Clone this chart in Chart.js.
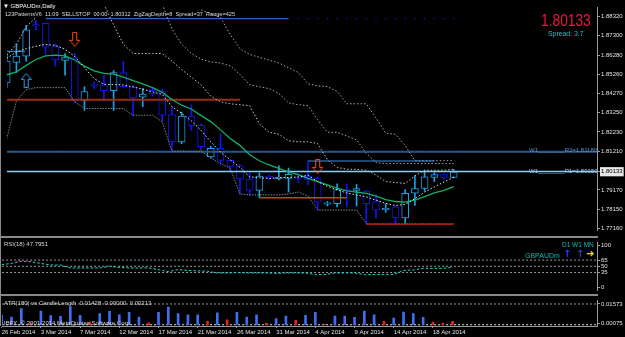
<!DOCTYPE html>
<html lang="en">
<head>
<meta charset="UTF-8" />
<title>GBPAUDm,Daily</title>
<style>
  html, body { margin: 0; padding: 0; background: #000; }
  body { width: 625px; height: 337px; position: relative; overflow: hidden;
         font-family: 'Liberation Sans', Arial, sans-serif; }
  .pane { position: absolute; left: 0; width: 625px; }
  .txt { position: absolute; white-space: pre; line-height: 1; transform-origin: 0 0; }
  .sep { position: absolute; background: #8a8a8a; }
</style>
</head>
<body>
  <div class="pane" style="top:0;height:237px"><canvas id="main" width="625" height="237"></canvas></div>
  <div class="pane" style="top:238px;height:57px"><canvas id="rsi" width="625" height="57"></canvas></div>
  <div class="pane" style="top:296px;height:41px"><canvas id="atr" width="625" height="41"></canvas></div>

  <div class="sep" style="left:0;top:236px;width:598px;height:2px"></div>
  <div class="sep" style="left:0;top:294px;width:598px;height:2px"></div>
  <div class="sep" style="left:0;top:0;width:1px;height:326px"></div>

  <div class="txt" style="left:3px;top:3px;font-size:6px;color:#fff">▼ GBPAUDm,Daily</div>
  <div class="txt" style="left:5px;top:11px;font-size:6px;color:#d8d8d8;transform:scaleX(0.93)">123PatternsV6  11:09  SELLSTOP  00:00  1.80312  ZigZagDepth=8  Spread=37  Range=425</div>
  <div class="txt" style="left:541px;top:13px;font-size:16px;color:#f0163c;transform:scaleX(0.86)">1.80133</div>
  <div class="txt" style="left:548px;top:30px;font-size:8px;color:#12c8c8;transform:scaleX(0.86)">Spread: 3.7</div>
  <div class="txt" style="left:529px;top:147px;font-size:6px;color:#5f8fc8">W1________R2=1.81180</div>
  <div class="txt" style="left:529px;top:168px;font-size:6px;color:#9cc8f0">W1________R1=1.80150</div>
  <div class="txt" style="left:4px;top:241px;font-size:6px;color:#d8d8d8">RSI(18) 47.7951</div>
  <div class="txt" style="left:562px;top:242px;font-size:6.5px;color:#14b4b4">D1 W1 MN</div>
  <div class="txt" style="left:525px;top:252px;font-size:7px;color:#14b4b4">GBPAUDm</div>
  <div class="txt" style="left:563px;top:249px;font-size:10px;font-weight:bold;color:#1e3cff;font-family:'DejaVu Sans'">↑</div>
  <div class="txt" style="left:576px;top:249px;font-size:10px;font-weight:bold;color:#1e3cff;font-family:'DejaVu Sans'">↑</div>
  <div class="txt" style="left:586px;top:249px;font-size:10px;font-weight:bold;color:#f0e000;font-family:'DejaVu Sans'">➜</div>
  <div class="txt" style="left:4px;top:300px;font-size:6px;color:#d8d8d8">ATR(180) vs CandleLength  0.01428  0.00000  0.00213</div>
  <div class="txt" style="left:4px;top:320px;font-size:6px;color:#d8d8d8">IBFX, © 2001-2014 MetaQuotes Software Corp.</div>

  <script src="https://cdn.jsdelivr.net/npm/chart.js"></script>
  <script>
    // ---- data ----
    const open = [1.84817, 1.85903, 1.86233, 1.87870, 1.87955, 1.86734, 1.86003, 1.86153, 1.83866, 1.84742, 1.84702, 1.84402, 1.85367, 1.84617, 1.84066, 1.84431, 1.84366, 1.83150, 1.81699, 1.83065, 1.82580, 1.80913, 1.81363, 1.80728, 1.80448, 1.79747, 1.79146, 1.79897, 1.79777, 1.79777, 1.79837, 1.79897, 1.79777, 1.78416, 1.78446, 1.79196, 1.79146, 1.79111, 1.78561, 1.78125, 1.78275, 1.77695, 1.78996, 1.79246, 1.79827, 1.79977, 1.79827];
    const high = [1.86368, 1.86869, 1.87835, 1.88120, 1.87970, 1.86869, 1.86368, 1.86368, 1.84617, 1.84867, 1.85217, 1.85468, 1.85953, 1.84667, 1.84517, 1.84567, 1.84502, 1.83531, 1.83280, 1.83666, 1.82665, 1.81464, 1.82114, 1.80763, 1.80513, 1.80062, 1.80062, 1.79962, 1.80448, 1.80328, 1.80012, 1.80698, 1.79862, 1.78561, 1.79497, 1.79497, 1.79462, 1.79161, 1.78911, 1.78446, 1.78310, 1.79196, 1.79912, 1.80197, 1.80077, 1.80012, 1.80247];
    const low = [1.84567, 1.85367, 1.85968, 1.87620, 1.86333, 1.85703, 1.85232, 1.83781, 1.83365, 1.84517, 1.83866, 1.83365, 1.84592, 1.83065, 1.83566, 1.84116, 1.82780, 1.81198, 1.81614, 1.82314, 1.81228, 1.80863, 1.80528, 1.80112, 1.78946, 1.78861, 1.78776, 1.79737, 1.79697, 1.79061, 1.79562, 1.79447, 1.78110, 1.78326, 1.78275, 1.78275, 1.78326, 1.77394, 1.77695, 1.77995, 1.77394, 1.77394, 1.78360, 1.79111, 1.79612, 1.79762, 1.79812];
    const close = [1.85968, 1.86233, 1.87620, 1.87810, 1.86704, 1.86033, 1.86153, 1.83866, 1.84366, 1.84682, 1.84402, 1.85367, 1.84617, 1.84031, 1.84231, 1.84231, 1.83115, 1.81699, 1.83065, 1.82565, 1.81449, 1.81363, 1.80728, 1.80413, 1.79747, 1.79146, 1.79897, 1.79777, 1.79837, 1.79997, 1.79777, 1.79727, 1.78526, 1.78476, 1.79196, 1.79111, 1.79246, 1.78446, 1.78110, 1.78185, 1.77695, 1.78996, 1.79246, 1.79862, 1.79977, 1.79827, 1.80133];

    const maGreen = [1.85242, 1.85393, 1.85743, 1.86053, 1.86238, 1.86283, 1.86248, 1.86028, 1.85703, 1.85453, 1.85317, 1.85282, 1.85127, 1.84942, 1.84767, 1.84567, 1.84316, 1.83941, 1.83641, 1.83441, 1.83090, 1.82775, 1.82340, 1.81889, 1.81524, 1.81028, 1.80713, 1.80488, 1.80312, 1.80122, 1.79982, 1.79777, 1.79612, 1.79442, 1.79261, 1.79126, 1.79061, 1.78986, 1.78846, 1.78656, 1.78561, 1.78531, 1.78631, 1.78821, 1.79021, 1.79151, 1.79351];
    const midLine = [1.86118, 1.86444, 1.86619, 1.86749, 1.86854, 1.86794, 1.86594, 1.86208, 1.85618, 1.85042, 1.84742, 1.84732, 1.84707, 1.84607, 1.84487, 1.84342, 1.84216, 1.83566, 1.83215, 1.82815, 1.82314, 1.81714, 1.81163, 1.80763, 1.80363, 1.79862, 1.79812, 1.79777, 1.79812, 1.79832, 1.79852, 1.79947, 1.79612, 1.79362, 1.79176, 1.79011, 1.78901, 1.78801, 1.78636, 1.78461, 1.78346, 1.78411, 1.78711, 1.79061, 1.79331, 1.79591, 1.79851];
    // stepped channel lines (null = not drawn)
    const chanSlow = [null, null, null, null, null, null, null, null, null, null, null, null, null, null, null, null, null, null, null, null, 1.88671, 1.88471, 1.88270, 1.87370, 1.86619, 1.86318, 1.86168, 1.86018, 1.85868, 1.85618, 1.85368, 1.84767, 1.84667, 1.84617, 1.84367, 1.83716, 1.83716, 1.83716, 1.82965, 1.82164, 1.82114, 1.81514, 1.80713, 1.80713, 1.80713, 1.80713, 1.80713];
    const chanMid = [null, null, null, null, null, null, null, null, null, null, null, null, null, null, null, null, 1.88971, 1.87670, 1.86869, 1.86369, 1.86068, 1.85918, 1.85868, 1.85718, 1.85267, 1.84717, 1.84617, 1.84517, 1.84266, 1.83766, 1.83666, 1.83616, 1.82865, 1.82214, 1.82214, 1.82014, 1.81814, 1.81113, 1.80613, 1.80563, 1.80563, 1.80563, 1.80563, 1.80563, 1.80563, 1.80563, 1.80563];
    const chanFast = [1.86268, 1.86869, 1.87770, 1.88270, null, null, null, null, null, null, 1.88971, 1.87870, 1.86869, 1.86369, 1.86369, 1.86369, 1.86369, 1.85968, 1.85518, 1.85117, 1.84717, 1.84116, 1.83816, 1.83716, 1.83666, 1.83616, 1.82665, 1.82214, 1.82114, 1.81764, 1.81714, 1.81714, 1.81614, 1.80763, 1.80363, 1.80262, 1.80262, 1.80212, 1.79962, 1.79612, 1.79562, 1.79512, 1.79912, 1.80212, 1.80212, 1.80212, 1.80262];
    const chanLower = [1.81864, 1.83866, 1.84467, 1.84567, 1.84567, 1.84567, 1.84567, 1.83816, 1.83466, 1.83466, 1.83466, 1.83466, 1.83466, 1.83115, 1.83115, 1.83115, 1.82765, 1.81213, 1.81213, 1.81213, 1.81213, 1.80863, 1.80563, 1.80312, 1.78961, 1.78911, 1.78911, 1.78911, 1.78911, 1.78961, 1.79061, 1.78861, 1.78110, 1.78110, 1.78110, 1.78110, 1.78110, 1.77385, 1.77385, 1.77385, 1.77385, 1.77385, 1.77385, 1.77385, 1.77385, 1.77385, 1.77385];

    const rsi = [54, 57, 62, 61, 57, 53, 53, 46, 46, 46, 46, 50, 47, 46, 46, 46, 42, 37, 42, 40, 39, 38, 34, 34, 35, 34, 34, 34, 33, 34, 34, 34, 30, 30, 34, 34, 34, 30, 30, 30, 30, 40, 41, 45, 45, 45, 47.8];
    const rsiLevels = [35, 50, 65];
    const candleLenUp = [0.0073, 0.0058, 0.0122, null, 0.0103, 0.0069, 0.0064, 0.0137, 0.0071, null, 0.0085, 0.0101, 0.0075, 0.0094, 0.0058, null, 0.0094, 0.0133, 0.0085, 0.0075, 0.0075, null, 0.0090, null, 0.0094, 0.0058, 0.0075, null, 0.0047, 0.0066, null, 0.0071, 0.0094, null, 0.0066, 0.0066, 0.0056, 0.0103, 0.0075, null, 0.0051, 0.0096, 0.0085, 0.0056, null, null, null];
    const candleLenDown = [null, null, null, 0.0013, null, null, null, null, null, 0.0021, null, null, null, null, null, 0.0015, null, null, null, null, null, 0.0026, null, 0.0037, null, null, null, 0.0013, null, null, 0.0034, null, null, 0.0004, null, null, null, null, null, 0.0026, null, null, null, null, 0.0021, 0.0013, 0.0026];
    const atrLevels = [0.0, 0.01573];

    const priceTicks = [1.77160, 1.78150, 1.79170, 1.80133, 1.81210, 1.82230, 1.83250, 1.84270, 1.85260, 1.86280, 1.87300, 1.88320];
    const rsiTicks = [0, 35, 50, 65, 100];
    const atrTicks = [0.00075, 0.01573];
    const dateTicks = ['26 Feb 2014', '3 Mar 2014', '7 Mar 2014', '12 Mar 2014', '17 Mar 2014', '21 Mar 2014', '26 Mar 2014', '31 Mar 2014', '4 Apr 2014', '9 Apr 2014', '14 Apr 2014', '18 Apr 2014'];

    const lastPrice = 1.80133;
    const pivotR2 = 1.81180;
    const pivotR1 = 1.80150;
    // horizontal segments: [fromBar, toBar, price]
    const brownLevel = [-1, 24, 1.83931];
    const redLevel = [26, 35, 1.78761];
    const lowLevel = [37, 46, 1.77359];
    const entryLevel = [31, 44, 1.80698];
    const topLevel = [4, 29, 1.88205];
    const topDots = [30, 31, 32, 33, 34, 35, 36, 37, 38, 39, 40, 41, 42, 43, 44, 45, 46];
    const leftLevel = [-1, 1.9, 1.86484];
    const sellArrows = [[7, 1.87119], [32, 1.80413]];
    const buyArrows = [[2, 1.84952]];

    // ---- helpers ----
    const BULL = '#1f9fe6';
    const BEAR = '#1414f0';
    const X_MIN = 0.03, X_MAX = 60.74;
    const FONT = { family: "'Liberation Sans', Arial, sans-serif", size: 6 };
    const bars = open.map((o, i) => i);
    const isBull = i => close[i] >= open[i];
    const seg = (a, b, y) => [{ x: a, y }, { x: b, y }];
    const full = y => seg(-2, 70, y);
    const series = arr => arr.map((v, i) => ({ x: i, y: v }));
    const dotted = (arr, color, dash) => ({
      type: 'line', data: series(arr), borderColor: color, borderWidth: 1, borderDash: dash,
      pointRadius: 0, spanGaps: false, order: 4
    });

    function arrowImage(dir, color) {
      const c = document.createElement('canvas');
      c.width = 11; c.height = 15;
      const g = c.getContext('2d');
      g.strokeStyle = color; g.lineWidth = 1;
      g.beginPath();
      if (dir === 'down') {
        g.moveTo(3.5, 0.5); g.lineTo(7.5, 0.5); g.lineTo(7.5, 8.5); g.lineTo(10.5, 8.5);
        g.lineTo(5.5, 14.5); g.lineTo(0.5, 8.5); g.lineTo(3.5, 8.5); g.closePath();
      } else {
        g.moveTo(3.5, 14.5); g.lineTo(7.5, 14.5); g.lineTo(7.5, 6.5); g.lineTo(10.5, 6.5);
        g.lineTo(5.5, 0.5); g.lineTo(0.5, 6.5); g.lineTo(3.5, 6.5); g.closePath();
      }
      g.stroke();
      return c;
    }

    const xScale = { type: 'linear', min: X_MIN, max: X_MAX, offset: false, display: false };
    const rightAxis = (extra) => Object.assign({
      position: 'right',
      afterFit: s => { s.width = 28; },
      grid: { drawOnChartArea: false, drawTicks: true, tickLength: 3, color: '#9a9a9a' },
      border: { display: true, color: '#9a9a9a', width: 1 },
      ticks: { autoSkip: false, padding: 1, color: '#e0e0e0', font: FONT }
    }, extra);
    const common = {
      responsive: false, animation: false, devicePixelRatio: 1,
      plugins: { legend: { display: false }, tooltip: { enabled: false } },
      events: []
    };

    // ---- main price pane ----
    new Chart(document.getElementById('main'), {
      type: 'bar',
      data: {
        datasets: [
          { type: 'line', data: series(midLine), borderColor: '#e6e6e6', borderWidth: 1, borderDash: [1.5, 2], pointRadius: 0, order: 2 },
          { type: 'line', data: series(maGreen), borderColor: '#10b068', borderWidth: 1.3, pointRadius: 0, order: 2 },
          { type: 'line', data: buyArrows.map(a => ({ x: a[0], y: a[1] })), showLine: false, pointStyle: arrowImage('up', '#2a9fe8'), pointRadius: 6, order: 1 },
          { type: 'line', data: sellArrows.map(a => ({ x: a[0], y: a[1] })), showLine: false, pointStyle: arrowImage('down', '#ff4a1c'), pointRadius: 6, order: 1 },
          dotted(chanSlow, '#a4a4a4', [1.5, 2]),
          dotted(chanMid, '#a4a4a4', [1.5, 2]),
          dotted(chanFast, '#c4c4c4', [1.5, 2]),
          dotted(chanLower, '#808080', [1.5, 1.2]),
          { type: 'line', data: full(pivotR2), borderColor: '#2c5a88', borderWidth: 2, pointRadius: 0, order: 5 },
          { type: 'line', data: bars.map(i => ({ x: i, y: pivotR2 })), showLine: false, pointStyle: 'rect', pointRadius: 0.8, backgroundColor: '#1030d0', borderWidth: 0, order: 4 },
          { type: 'line', data: full(pivotR1), borderColor: '#8ccdf8', borderWidth: 1.5, pointRadius: 0, order: 5 },
          { type: 'line', data: seg(brownLevel[0], brownLevel[1], brownLevel[2]), borderColor: '#9a2c10', borderWidth: 2, pointRadius: 0, order: 5 },
          { type: 'line', data: seg(redLevel[0], redLevel[1], redLevel[2]), borderColor: '#e8341c', borderWidth: 1.5, pointRadius: 0, order: 3 },
          { type: 'line', data: seg(lowLevel[0], lowLevel[1], lowLevel[2]), borderColor: '#9b2008', borderWidth: 1.5, pointRadius: 0, order: 3 },
          { type: 'line', data: seg(entryLevel[0], entryLevel[1], entryLevel[2]), borderColor: '#3c8ce0', borderWidth: 1.2, pointRadius: 0, order: 3 },
          { type: 'line', data: seg(topLevel[0], topLevel[1], topLevel[2]), borderColor: '#3c7ce0', borderWidth: 1, pointRadius: 0, order: 5 },
          { type: 'line', data: topDots.map(i => ({ x: i, y: topLevel[2] })), showLine: false, pointStyle: 'rect', pointRadius: 0.9, backgroundColor: '#0a14d0', borderWidth: 0, order: 5 },
          { type: 'line', data: seg(leftLevel[0], leftLevel[1], leftLevel[2]), borderColor: '#2a9fe8', borderWidth: 1, pointRadius: 0, order: 5 },
          {
            data: bars.map(i => ({ x: i, y: [Math.min(open[i], close[i]), Math.max(open[i], close[i])] })),
            backgroundColor: '#000', borderColor: c => isBull(c.dataIndex) ? BULL : BEAR,
            borderWidth: 1, borderSkipped: false, barThickness: 7, grouped: false, minBarLength: 1.5, order: 8
          },
          {
            data: bars.map(i => ({ x: i, y: [low[i], high[i]] })),
            backgroundColor: c => isBull(c.dataIndex) ? BULL : BEAR,
            borderWidth: 0, barThickness: 1, grouped: false, order: 9
          }
        ]
      },
      options: Object.assign({}, common, {
        layout: { padding: { left: 2, top: 1, bottom: 1, right: 0 } },
        scales: {
          x: xScale,
          y: rightAxis({
            min: 1.77059, max: 1.88821,
            afterBuildTicks: s => { s.ticks = priceTicks.map(v => ({ value: v })); },
            ticks: {
              autoSkip: false, padding: 1, font: FONT,
              color: c => c.tick && c.tick.value === lastPrice ? '#000' : '#e0e0e0',
              showLabelBackdrop: c => !!(c.tick && c.tick.value === lastPrice),
              backdropColor: '#e8e8e8', backdropPadding: { x: 1, y: 1 },
              callback: v => v.toFixed(5)
            }
          })
        }
      })
    });

    // ---- RSI pane ----
    const rsiDatasets = rsiLevels.map(l => ({
      type: 'line', data: full(l), borderColor: '#9a9a9a', borderWidth: 1, borderDash: [2, 2], pointRadius: 0
    }));
    rsiDatasets.unshift({ type: 'line', data: series(rsi), borderColor: '#12d8d8', borderWidth: 1, borderDash: [2.5, 2], pointRadius: 0 });
    new Chart(document.getElementById('rsi'), {
      type: 'line',
      data: { datasets: rsiDatasets },
      options: Object.assign({}, common, {
        layout: { padding: { left: 2, top: 0, bottom: 0, right: 0 } },
        scales: {
          x: xScale,
          y: rightAxis({
            min: -8.08, max: 107.07,
            afterBuildTicks: s => { s.ticks = rsiTicks.map(v => ({ value: v })); },
            ticks: { autoSkip: false, padding: 1, color: '#e0e0e0', font: FONT, callback: v => String(v) }
          })
        }
      })
    });

    // ---- ATR / candle length pane with date axis ----
    new Chart(document.getElementById('atr'), {
      type: 'bar',
      data: {
        datasets: [
          { data: series(candleLenUp), backgroundColor: '#3f6ef0', barThickness: 2, grouped: false },
          { data: series(candleLenDown), backgroundColor: '#e02424', barThickness: 2, grouped: false },
          { type: 'line', data: full(atrLevels[1]), borderColor: '#9a9a9a', borderWidth: 1, borderDash: [2, 2], pointRadius: 0 },
          { type: 'line', data: full(atrLevels[0]), borderColor: '#e0e0e0', borderWidth: 1, borderDash: [2, 2], pointRadius: 0 }
        ]
      },
      options: Object.assign({}, common, {
        layout: { padding: { left: 2, top: 0, bottom: 0, right: 0 } },
        scales: {
          x: {
            type: 'linear', min: X_MIN, max: X_MAX, offset: false, position: 'bottom',
            afterFit: s => { s.height = 11; },
            afterBuildTicks: s => { s.ticks = dateTicks.map((d, k) => ({ value: k * 4 })); },
            grid: { drawOnChartArea: false, drawTicks: true, tickLength: 2, color: '#9a9a9a', offset: false },
            border: { display: true, color: '#9a9a9a', width: 1 },
            ticks: { autoSkip: false, maxRotation: 0, align: 'start', padding: 1, color: '#e0e0e0', font: FONT,
                     callback: v => dateTicks[v / 4] }
          },
          y: rightAxis({
            min: -0.00096, max: 0.0183,
            afterBuildTicks: s => { s.ticks = atrTicks.map(v => ({ value: v })); },
            ticks: { autoSkip: false, padding: 1, color: '#e0e0e0', font: FONT, callback: v => v.toFixed(5) }
          })
        }
      })
    });
  </script>
</body>
</html>
